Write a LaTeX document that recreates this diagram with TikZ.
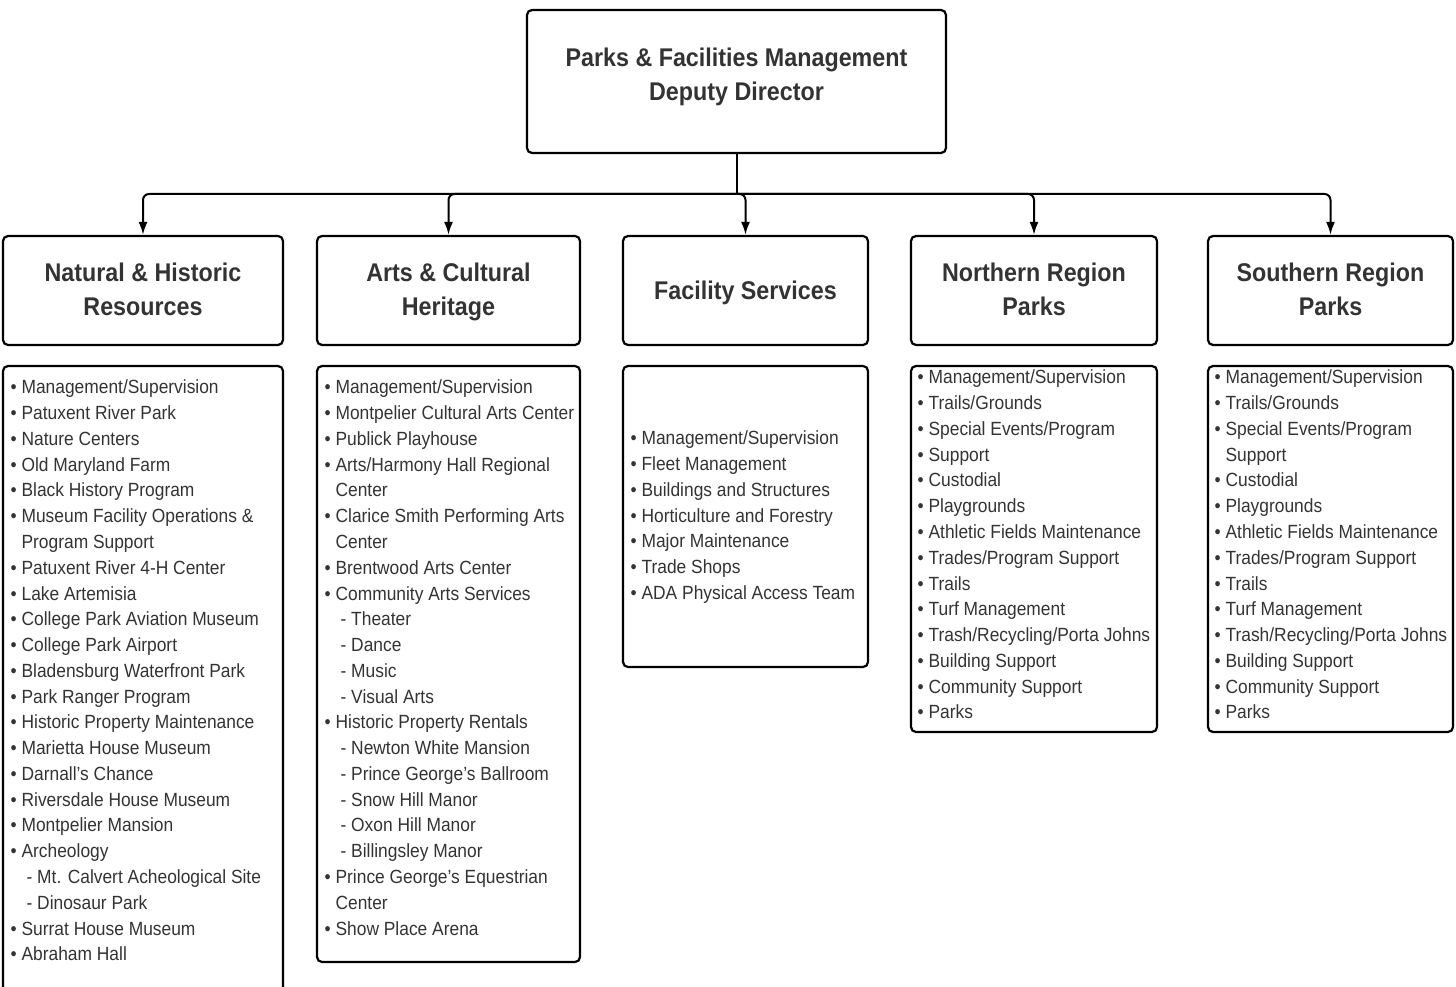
\documentclass[tikz,border=0pt]{standalone}
\usepackage{fontspec}
\setmainfont{Liberation Sans}[FakeStretch=0.91]
\usetikzlibrary{arrows.meta}
\definecolor{txt}{HTML}{333333}
\newcommand\cont{\hphantom{• }}
\newcommand\subi{\hphantom{• }\hspace*{5pt}- }
\newcommand\firstline{\rule{0pt}{18pt}}
\newcommand\headline{\rule{0pt}{22pt}}
\tikzset{
 box/.style={draw=black, line width=2.2pt, rounded corners=5pt, inner sep=0pt},
 headtext/.style={anchor=north, inner sep=0pt, text=txt, font=\fontsize{25.6}{34}\selectfont\bfseries, align=center},
 listtext/.style={anchor=north west, inner sep=0pt, text=txt, align=left, font=\fontsize{19.1}{25.77}\selectfont},
 conn/.style={line width=2pt, rounded corners=6pt, -{Latex[length=13pt,width=9pt]}},
}
\begin{document}
\begin{tikzpicture}[x=1pt,y=-1pt]
\useasboundingbox (0,0) rectangle (1456,987);
% top box
\node[box, minimum width=419pt, minimum height=143pt] (top) at (736.5,81.5) {};
\node[headtext] (toptext) at (736.5,44.5) {\headline Parks \& Facilities Management\\Deputy Director};
% header boxes
\node[box, minimum width=280pt, minimum height=109pt] (h1) at (143,290.5) {};
\node[box, minimum width=263pt, minimum height=109pt] (h2) at (448.5,290.5) {};
\node[box, minimum width=245pt, minimum height=109pt] (h3) at (745.5,290.5) {};
\node[box, minimum width=246pt, minimum height=109pt] (h4) at (1034,290.5) {};
\node[box, minimum width=245pt, minimum height=109pt] (h5) at (1330.5,290.5) {};
\node[headtext] (ht1) at (143,259) {\headline Natural \& Historic\\Resources};
\node[headtext] (ht2) at (448.5,259) {\headline Arts \& Cultural\\Heritage};
\node[headtext] (ht3) at (745.5,277.3) {\headline Facility Services};
\node[headtext] (ht4) at (1034,259) {\headline Northern Region\\Parks};
\node[headtext] (ht5) at (1330.5,259) {\headline Southern Region\\Parks};
% list boxes
\node[box, minimum width=280pt, minimum height=654pt] (l1) at (143,693) {};
\node[box, minimum width=263pt, minimum height=596pt] (l2) at (448.5,664) {};
\node[box, minimum width=245pt, minimum height=301pt] (l3) at (745.5,516.5) {};
\node[box, minimum width=246pt, minimum height=366pt] (l4) at (1034,549) {};
\node[box, minimum width=245pt, minimum height=366pt] (l5) at (1330.5,549) {};
% list texts
\node[listtext] (t1) at (10.5,375.7) {\firstline• Management/Supervision\\
• Patuxent River Park\\
• Nature Centers\\
• Old Maryland Farm\\
• Black History Program\\
• Museum Facility Operations \&\\
\cont Program Support\\
• Patuxent River 4-H Center\\
• Lake Artemisia\\
• College Park Aviation Museum\\
• College Park Airport\\
• Bladensburg Waterfront Park\\
• Park Ranger Program\\
• Historic Property Maintenance\\
• Marietta House Museum\\
• Darnall's Chance\\
• Riversdale House Museum\\
• Montpelier Mansion\\
• Archeology\\
\subi Mt. Calvert Acheological Site\\
\subi Dinosaur Park\\
• Surrat House Museum\\
• Abraham Hall};
\node[listtext] (t2) at (324.5,375.7) {\firstline• Management/Supervision\\
• Montpelier Cultural Arts Center\\
• Publick Playhouse\\
• Arts/Harmony Hall Regional\\
\cont Center\\
• Clarice Smith Performing Arts\\
\cont Center\\
• Brentwood Arts Center\\
• Community Arts Services\\
\subi Theater\\
\subi Dance\\
\subi Music\\
\subi Visual Arts\\
• Historic Property Rentals\\
\subi Newton White Mansion\\
\subi Prince George’s Ballroom\\
\subi Snow Hill Manor\\
\subi Oxon Hill Manor\\
\subi Billingsley Manor\\
• Prince George’s Equestrian\\
\cont Center\\
• Show Place Arena};
\node[listtext] (t3) at (630.5,426.7) {\firstline• Management/Supervision\\
• Fleet Management\\
• Buildings and Structures\\
• Horticulture and Forestry\\
• Major Maintenance\\
• Trade Shops\\
• ADA Physical Access Team};
\node[listtext] (t4) at (917.5,365.7) {\firstline• Management/Supervision\\
• Trails/Grounds\\
• Special Events/Program\\
• Support\\
• Custodial\\
• Playgrounds\\
• Athletic Fields Maintenance\\
• Trades/Program Support\\
• Trails\\
• Turf Management\\
• Trash/Recycling/Porta Johns\\
• Building Support\\
• Community Support\\
• Parks};
\node[listtext] (t5) at (1214.5,365.7) {\firstline• Management/Supervision\\
• Trails/Grounds\\
• Special Events/Program\\
\cont Support\\
• Custodial\\
• Playgrounds\\
• Athletic Fields Maintenance\\
• Trades/Program Support\\
• Trails\\
• Turf Management\\
• Trash/Recycling/Porta Johns\\
• Building Support\\
• Community Support\\
• Parks};
% connectors
\coordinate (jn) at (736.5,194);
\draw[line width=2pt] (top.south) -- (jn);
\foreach \h in {h1,h2,h3,h4,h5} \draw[conn] (jn) -| (\h.north);
\end{tikzpicture}
\end{document}
